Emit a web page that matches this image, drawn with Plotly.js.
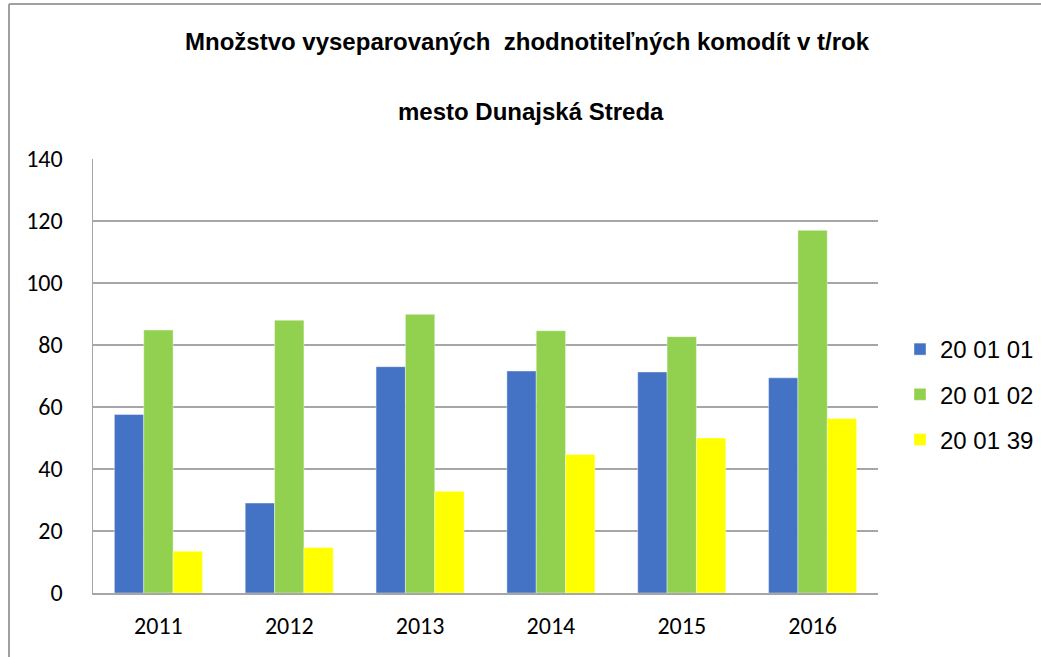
<!DOCTYPE html>
<html>
<head>
<meta charset="utf-8">
<script src="https://cdn.plot.ly/plotly-3.0.1.min.js"></script>
<style>html,body{margin:0;padding:0;background:#fff;}#chart{width:1041px;height:657px;}</style>
</head>
<body>
<div id="chart"></div>
<script>
const years = ['2011', '2012', '2013', '2014', '2015', '2016'];
const seriesNames = ['20 01 01', '20 01 02', '20 01 39'];
const s200101 = [57.6, 29.0, 73.0, 71.6, 71.3, 69.4];
const s200102 = [84.8, 88.0, 89.9, 84.6, 82.7, 117.0];
const s200139 = [13.5, 14.7, 32.8, 44.7, 50.0, 56.3];
const colors = ['#4472C4', '#92D050', '#FFFF00'];
const yTicks = [0, 20, 40, 60, 80, 100, 120, 140];
const titleLine1 = 'Množstvo vyseparovaných  zhodnotiteľných komodít v t/rok';
const titleLine2 = 'mesto Dunajská Streda';

const values = [s200101, s200102, s200139];
const traces = values.map((v, i) => ({
  type: 'bar',
  name: seriesNames[i],
  x: years,
  y: v,
  legendgroup: 'g' + i,
  marker: {color: colors[i], line: {color: 'rgba(255,255,255,0.5)', width: 0.8}},
  hoverinfo: 'x+y+name'
}));

const W = 1041, H = 657;
const L = 93, R = 163, T = 159, B = 64;
const pw = W - L - R, ph = H - T - B;
const px = x => (x - L) / pw;
const py = y => (H - B - y) / ph;

const layout = {
  width: W, height: H,
  margin: {l: L, r: R, t: T, b: B, pad: 0, autoexpand: false},
  paper_bgcolor: '#fff', plot_bgcolor: '#fff',
  barmode: 'group', bargap: 0.327, bargroupgap: 0,
  showlegend: true,
  legend: {
    x: px(900), y: py(327), xanchor: 'left', yanchor: 'top',
    font: {family: 'Liberation Sans Narrow, Arial Narrow, sans-serif', size: 24, color: '#000'},
    tracegroupgap: 11, itemwidth: 30,
    bgcolor: 'rgba(0,0,0,0)'
  },
  xaxis: {
    type: 'category',
    showgrid: false, zeroline: false,
    showline: true, linecolor: '#a6a6a6', linewidth: 2,
    ticks: '', ticklabelstandoff: 10,
    tickfont: {family: 'Carlito, Noto Sans, sans-serif', size: 24, color: '#000'},
    fixedrange: true
  },
  yaxis: {
    range: [0, 140], tickvals: yTicks, ticktext: yTicks.map(String),
    showgrid: true, gridcolor: '#a6a6a6', gridwidth: 1.5,
    zeroline: false,
    showline: true, linecolor: '#a6a6a6', linewidth: 1.5,
    ticks: '', ticklabelstandoff: 24,
    tickfont: {family: 'Carlito, Noto Sans, sans-serif', size: 24, color: '#000'},
    fixedrange: true
  },
  annotations: [
    {text: '<b>' + titleLine1 + '</b>', xref: 'paper', yref: 'paper', x: px(527), y: py(42),
     xanchor: 'center', yanchor: 'middle', showarrow: false,
     font: {family: 'Liberation Sans Narrow, Arial Narrow, sans-serif', size: 24, color: '#000'}},
    {text: '<b>' + titleLine2 + '</b>', xref: 'paper', yref: 'paper', x: px(531), y: py(111),
     xanchor: 'center', yanchor: 'middle', showarrow: false,
     font: {family: 'Liberation Sans Narrow, Arial Narrow, sans-serif', size: 24, color: '#000'}}
  ],
  shapes: [
    {type: 'line', xref: 'paper', yref: 'paper', x0: px(9), x1: px(1045), y0: py(4), y1: py(4),
     line: {color: '#a0a0a0', width: 2}},
    {type: 'line', xref: 'paper', yref: 'paper', x0: px(9), x1: px(9), y0: py(4), y1: py(660),
     line: {color: '#a0a0a0', width: 2}}
  ]
};

Plotly.newPlot('chart', traces, layout, {displayModeBar: false, staticPlot: true});
</script>
</body>
</html>
